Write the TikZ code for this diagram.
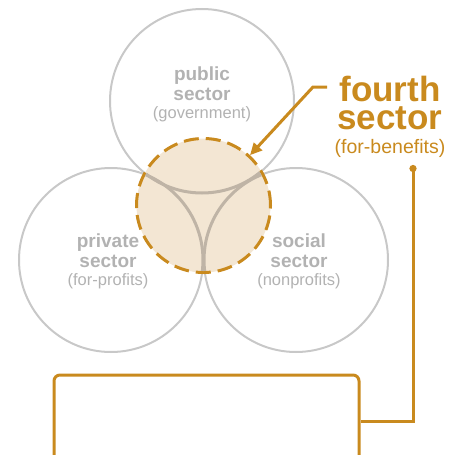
\documentclass[tikz,border=0pt]{standalone}
\usepackage{fontspec}
\setmainfont{Liberation Sans}
\usetikzlibrary{arrows.meta}

\definecolor{fourthgold}{HTML}{C98A1E}
\definecolor{ringgray}{HTML}{C8C8C8}
\definecolor{textgray}{HTML}{B2B2B2}
\definecolor{corefill}{HTML}{F3E6D3}
\definecolor{seamtan}{HTML}{BFB4A6}

\tikzset{
    sector/.style = {circle, draw=ringgray, line width=2pt, minimum size=184pt, inner sep=0pt},
    core/.style = {circle, fill=corefill, draw=fourthgold, line width=3pt, dash pattern=on 15pt off 7pt, minimum size=134pt, inner sep=0pt},
    seam/.style = {draw=seamtan, line width=3pt},
    graylabel/.style = {text=textgray, align=center, inner sep=0pt, font=\fontsize{19}{20}\selectfont\bfseries},
    goldlabel/.style = {text=fourthgold, align=center, inner sep=0pt, font=\fontsize{35}{28}\selectfont\bfseries},
    panel/.style = {draw=fourthgold, line width=3pt, rounded corners=6pt, minimum width=305pt, minimum height=160pt},
    goldline/.style = {draw=fourthgold, line width=3pt},
}
\newcommand{\subline}{\fontsize{16.5}{17}\selectfont\mdseries}

\begin{document}
\begin{tikzpicture}[x=1pt, y=-1pt]
    \clip (0,0) rectangle (448,455);

    % the three sectors
    \node[sector] (public) at (202,101) {};
    \node[sector] (private) at (111,260) {};
    \node[sector] (social) at (296,260) {};

    % fourth sector in the middle
    \node[core] (core) at (203.5,205.5) {};
    \begin{scope}
        \clip (core.center) circle (65.5pt);
        \draw[seam] (public.center) circle (92pt);
        \draw[seam] (private.center) circle (92pt);
        \draw[seam] (social.center) circle (92pt);
    \end{scope}

    \node[graylabel] (publiclabel) at (202,94) {public\\sector\\[-2pt]{\subline (government)}};
    \node[graylabel] (privatelabel) at (108,261) {private\\sector\\[-2pt]{\subline (for-profits)}};
    \node[graylabel] (sociallabel) at (299,261) {social\\sector\\[-2pt]{\subline (nonprofits)}};

    \node[goldlabel] (fourth) at (390,117) {fourth\\sector\\[-4pt]{\fontsize{19.5}{20}\selectfont\mdseries (for-benefits)}};

    % pointer to the middle
    \coordinate (tick) at (327,87);
    \draw[goldline, -{Triangle[length=12pt, width=11pt]}] (tick) -- ++(-14,0) -- (core);

    % box below, cut by the edge
    \node[panel] (panel) at (206.5,455) {};
    \coordinate (tail) at (413,165);
    \coordinate (bend) at (413,421);
    \draw[goldline, {Circle[length=7pt]}-] (tail) -- (bend) -- (bend -| panel.east);

\end{tikzpicture}
\end{document}
